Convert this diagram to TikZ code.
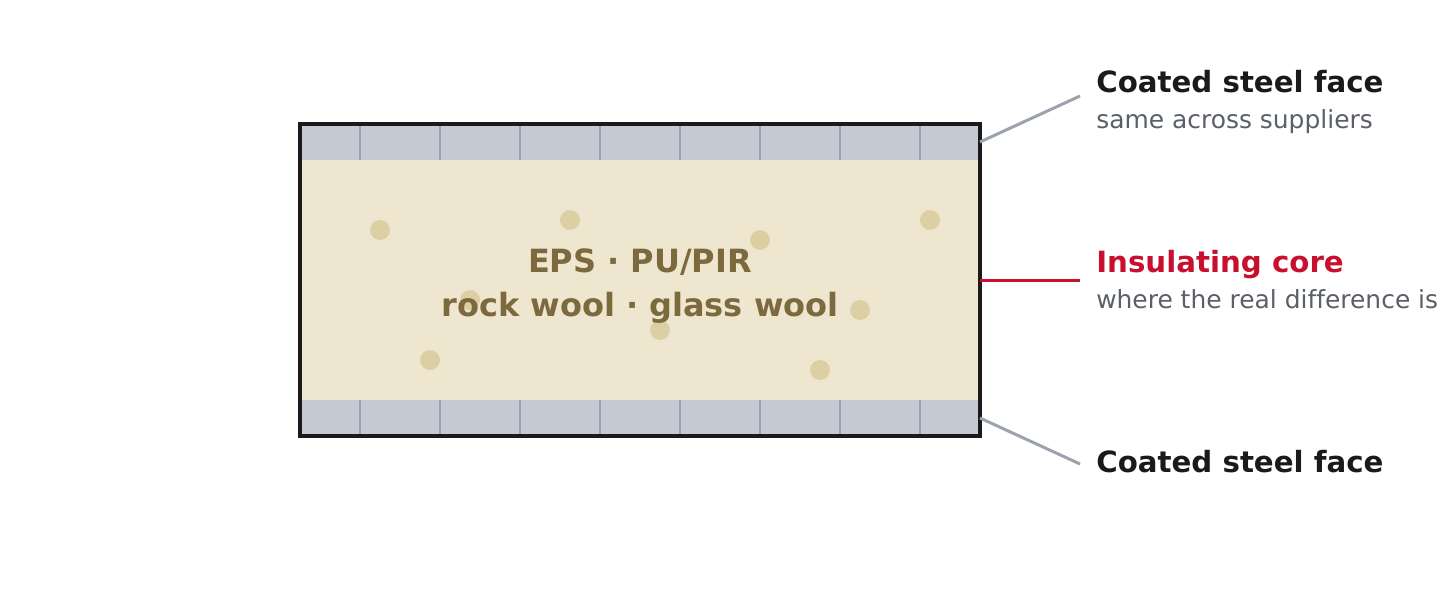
\documentclass[tikz,border=0pt]{standalone}
\usepackage{fontspec}
\setmainfont{DejaVu Sans}[Ligatures=NoCommon]
\definecolor{facecol}{HTML}{C3CAD3}
\definecolor{seamcol}{HTML}{9CA3AF}
\definecolor{corecol}{HTML}{EFE6CF}
\definecolor{dotcol}{HTML}{DCCFA3}
\definecolor{coretext}{HTML}{7C6A3E}
\definecolor{framecol}{HTML}{1A1A1A}
\definecolor{redcol}{HTML}{C8102E}
\definecolor{subcol}{HTML}{5B6068}
\tikzset{
  px/.style={x=0.75pt,y=-0.75pt},
  panelpart/.style={draw=none,inner sep=0pt,outer sep=0pt,anchor=north west},
  seam/.style={draw=seamcol,line width=1.5pt},
  granule/.style={fill=dotcol,draw=none},
  frame/.style={draw=framecol,line width=3pt},
  leader/.style={line width=2.25pt,line cap=butt},
  title/.style={anchor=base west,inner sep=0pt,font=\fontsize{21.95}{25}\selectfont\bfseries},
  subtitle/.style={anchor=base west,inner sep=0pt,text=subcol,font=\fontsize{18.7}{22}\selectfont},
  coretextstyle/.style={inner sep=0pt,anchor=base,text=coretext,font=\fontsize{24}{28}\selectfont\bfseries}
}
\begin{document}
\begin{tikzpicture}[px]
\useasboundingbox (0,0) rectangle (1440,600);
\fill[white] (0,0) rectangle (1440,600);
\node[panelpart,fill=corecol,minimum width=510pt,minimum height=180pt] (core) at (300,160) {};
\node[panelpart,fill=facecol,minimum width=510pt,minimum height=27pt] (topface) at (300,124) {};
\node[panelpart,fill=facecol,minimum width=510pt,minimum height=27pt] (botface) at (300,400) {};
\foreach \x in {360,440,520,600,680,760,840,920}{
  \draw[seam] (\x,124) -- (\x,160);
  \draw[seam] (\x,400) -- (\x,436);
}
\foreach \x/\y in {380/230,570/220,760/240,930/220,470/300,660/330,860/310,430/360,820/370}{
  \fill[granule] (\x,\y) circle[radius=10];
}
\draw[frame] (300,124) rectangle (980,436);
\node[coretextstyle] (corea) at (640,272) {EPS · PU/PIR};
\node[coretextstyle] (coreb) at (640,316) {rock wool · glass wool};
\coordinate (enda) at (1080,96);
\coordinate (endb) at (1080,280);
\coordinate (endc) at (1080,464);
\draw[leader,seamcol] (topface.east) -- (enda);
\draw[leader,redcol] (core.east) -- (endb);
\draw[leader,seamcol] (botface.east) -- (endc);
\node[title,text=framecol] (la) at (1096,92) {Coated steel face};
\node[subtitle] (lasub) at (1096,128) {same across suppliers};
\node[title,text=redcol] (lb) at (1096,272) {Insulating core};
\node[subtitle] (lbsub) at (1096,308) {where the real difference is};
\node[title,text=framecol] (lc) at (1096,472) {Coated steel face};
\end{tikzpicture}
\end{document}
